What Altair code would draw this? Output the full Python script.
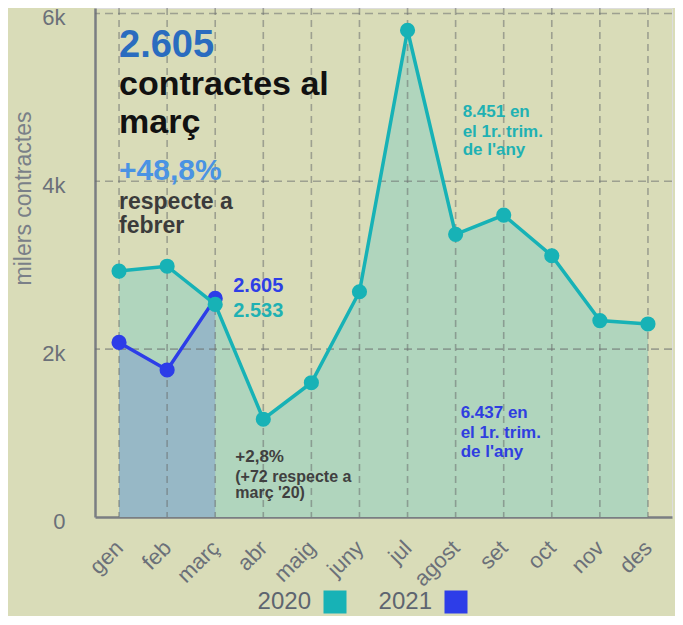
import altair as alt
import pandas as pd

# ---------------- data ----------------
months = ["gen", "feb", "març", "abr", "maig", "juny", "jul", "agost", "set", "oct", "nov", "des"]
contracts_2020 = [2930, 2988, 2533, 1165, 1600, 2684, 5800, 3368, 3598, 3113, 2340, 2300]
months_2021 = ["gen", "feb", "març"]
contracts_2021 = [2080, 1752, 2605]
years = ["2020", "2021"]
year_colors = ["#17b2b6", "#2d3de8"]
y_ticks = [0, 2000, 4000, 6000]
grid_values = [2000, 4000, 6000]

# annotations: text, anchor month, anchor value (baseline), group
note_text = ["2.605", "contractes al", "març", "+48,8%", "respecte a", "febrer",
             "2.605", "2.533",
             " +2,8%", "(+72 respecte a", "març '20)",
             "8.451 en", "el 1r. trim.", "de l'any",
             "6.437 en", "el 1r. trim.", "de l'any"]
note_month = ["gen"] * 6 + ["març"] * 2 + ["abr"] * 3 + ["agost"] * 3 + ["agost"] * 3
note_value = [5481, 5028, 4575, 4015, 3670, 3384,
              2681, 2383,
              655, 417, 226,
              4766, 4528, 4313,
              1180, 941, 715]
note_size = [38, 34, 34, 30, 23, 23,
             20, 20,
             17, 16, 16,
             17, 17, 17,
             17, 17, 17]
note_color = ["#2a6cbf", "#111111", "#111111", "#4a93e3", "#3b3b3b", "#3b3b3b",
              "#2e3ee6", "#1fb1b3",
              "#404040", "#404040", "#404040",
              "#1fb1b3", "#1fb1b3", "#1fb1b3",
              "#2f3ee0", "#2f3ee0", "#2f3ee0"]
note_group = ["title"] * 6 + ["march"] * 2 + ["april"] * 3 + ["q2020"] * 3 + ["q2021"] * 3
group_dx = {"title": 0, "march": 18, "april": -28, "q2020": 7, "q2021": 5}

FONT = "Liberation Sans"
BG = "#d9dcb8"

df20 = pd.DataFrame({"month": months, "value": contracts_2020, "year": "2020"})
df21 = pd.DataFrame({"month": months_2021, "value": contracts_2021, "year": "2021"})
grid_x_df = pd.DataFrame({"month": months})
grid_y_df = pd.DataFrame({"value": grid_values})
notes = pd.DataFrame({"text": note_text, "month": note_month, "value": note_value,
                      "size": note_size, "color": note_color, "group": note_group})

x_enc = alt.X("month:N", sort=months,
              scale=alt.Scale(type="point", domain=months, padding=0.5),
              axis=alt.Axis(title=None, labelAngle=-45, labelAlign="right", labelBaseline="middle",
                            labelPadding=27, labelFontSize=22, labelColor="#6b7079", labelFont=FONT,
                            ticks=False, grid=False, domainColor="#7a7e82", domainWidth=2.5))
y_enc = alt.Y("value:Q",
              scale=alt.Scale(domain=[0, 6065], nice=False, zero=True),
              axis=alt.Axis(title="milers contractes", values=y_ticks,
                            labelExpr="datum.value == 0 ? '0' : (datum.value / 1000) + 'k'",
                            labelFontSize=22, labelColor="#6b7079", labelFont=FONT, labelPadding=30,
                            labelOffset=4,
                            ticks=False, grid=False, domainColor="#7a7e82", domainWidth=2.5,
                            titleFontSize=23, titleColor="#7a8088", titleFontWeight="normal",
                            titleFont=FONT, titleX=-65, titleY=190, titleBaseline="alphabetic",
                            titleAlign="center"))

legend = alt.Legend(title=None, orient="none", legendX=228, legendY=582,
                    direction="horizontal", symbolType="square", symbolSize=529,
                    symbolStrokeWidth=0, symbolOpacity=1,
                    labelFontSize=24, labelColor="#5d6570", labelFont=FONT, labelAlign="right",
                    labelOffset={"expr": "-36"}, columnPadding=31, padding=0)
color_enc = alt.Color("year:N", scale=alt.Scale(domain=years, range=year_colors), legend=legend)

area20 = alt.Chart(df20).mark_area(color="#b0d5bd", opacity=1).encode(x=x_enc, y=y_enc)
area21 = alt.Chart(df21).mark_area(color="#97b8c6", opacity=1).encode(x=x_enc, y=y_enc)

grid_v = alt.Chart(grid_x_df).mark_rule(color="#6b6f6f", opacity=0.55, strokeWidth=1.6,
                                        strokeDash=[7, 5]).encode(x=x_enc)
grid_h = alt.Chart(grid_y_df).mark_rule(color="#6b6f6f", opacity=0.55, strokeWidth=1.6,
                                        strokeDash=[8, 5]).encode(y=y_enc)

pts21 = alt.Chart(df21).mark_circle(size=230, opacity=1).encode(x=x_enc, y=y_enc, color=color_enc)
line21 = alt.Chart(df21).mark_line(strokeWidth=3.5).encode(x=x_enc, y=y_enc, color=color_enc)
pts20 = alt.Chart(df20).mark_circle(size=230, opacity=1).encode(x=x_enc, y=y_enc, color=color_enc)
line20 = alt.Chart(df20).mark_line(strokeWidth=3.5).encode(x=x_enc, y=y_enc, color=color_enc)

text_layers = []
for g, dx in group_dx.items():
    text_layers.append(
        alt.Chart(notes[notes["group"] == g]).mark_text(
            align="left", baseline="alphabetic", fontWeight="bold", font=FONT, dx=dx
        ).encode(x=x_enc, y=y_enc, text="text:N",
                 size=alt.Size("size:Q", scale=None),
                 color=alt.Color("color:N", scale=None))
    )

chart = alt.layer(area20, area21, grid_v, grid_h, pts21, line21, line20, pts20, *text_layers).properties(
    width=577, height=509,
    background=BG,
    padding={"left": 87, "top": 0, "right": 3, "bottom": 99},
    autosize=alt.AutoSizeParams(type="none"),
).configure_view(stroke=None).configure(font=FONT)

chart.save("out.html", embed_options={"renderer": "svg", "actions": False})
